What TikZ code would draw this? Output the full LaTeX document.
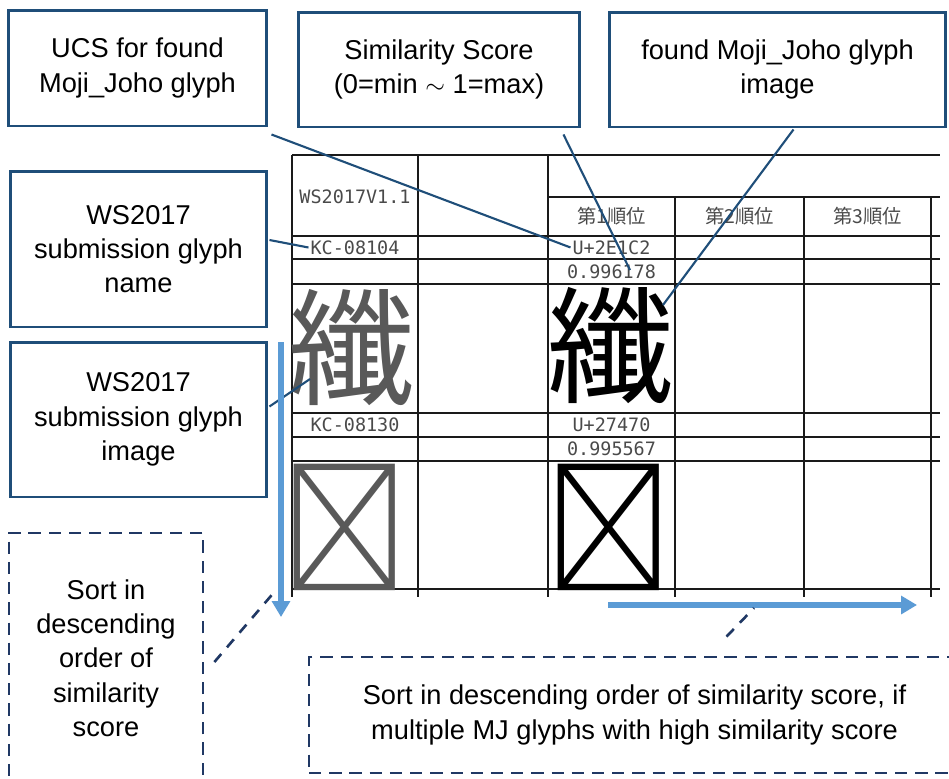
\documentclass[tikz,border=0pt]{standalone}
\usepackage{fontspec}
\setmainfont{Liberation Sans}
\setmonofont{DejaVu Sans Mono}
\newfontfamily\cjk{Noto Sans CJK JP}
\usetikzlibrary{arrows.meta}

\definecolor{boxE}{HTML}{1F4E79}
\definecolor{dashE}{HTML}{203864}
\definecolor{sortA}{HTML}{5B9BD5}
\definecolor{gridL}{HTML}{1A1A1A}
\definecolor{cellT}{HTML}{4A4A4A}

\begin{document}
\begin{tikzpicture}[x=0.02cm, y=-0.02cm,
  note/.style 2 args={draw=boxE, line width=1.7pt, minimum width=#1, minimum height=#2,
                      align=center, inner sep=2pt, font=\fontsize{15.5}{19.5}\selectfont},
  sortnote/.style 2 args={draw=dashE, line width=1.6pt, dash pattern=on 7pt off 4.5pt,
                      minimum width=#1, minimum height=#2, align=center, inner sep=2pt,
                      font=\fontsize{15.5}{19.5}\selectfont},
  cell/.style={font=\ttfamily\fontsize{10.5}{12}\selectfont, text=cellT, inner sep=1pt},
  rank/.style={font=\cjk\fontsize{11}{12}\selectfont, text=cellT, inner sep=1pt},
  glyph/.style={font=\cjk\fontsize{72}{72}\selectfont, inner sep=0pt,
                text height=57.6pt, text depth=5.8pt},
  tabline/.style={gridL, line width=0.8pt},
  link/.style={boxE, line width=1.2pt},
  hint/.style={dashE, line width=1.5pt, dash pattern=on 6pt off 5pt},
  sortarrow/.style={sortA, line width=3.4pt, -{Triangle[width=10pt,length=9pt]}},
]
\useasboundingbox (0,0) rectangle (949,778);
\clip (0,0) rectangle (949,778);

% result table grid
\draw[tabline] (292,155) -- (940,155);
\draw[tabline] (548,197) -- (940,197);
\foreach \ry in {236,259,413,437,461,589}
  \draw[tabline] (292,\ry) -- (940,\ry);
\draw[tabline, line width=1.3pt] (292,284) -- (940,284);
\foreach \cx in {292,418,548}
  \draw[tabline] (\cx,155) -- (\cx,597);
\foreach \cx in {675,804,931}
  \draw[tabline] (\cx,197) -- (\cx,597);

% table texts
\node[cell] (head) at (355,197) {WS2017V1.1};
\node[rank] (r1) at (611.5,216.5) {第1順位};
\node[rank] (r2) at (739.5,216.5) {第2順位};
\node[rank] (r3) at (867.5,216.5) {第3順位};

\node[cell] (ws1) at (355,247.5) {KC-08104};
\node[cell] (u1) at (611.5,247.5) {U+2E1C2};
\node[cell] (s1) at (611.5,271.5) {0.996178};
\node[glyph, text=black!65] (k1) at (352,350) {纖};
\node[glyph] (m1) at (611,348) {纖};

\node[cell] (ws2) at (355,425) {KC-08130};
\node[cell] (u2) at (611.5,425) {U+27470};
\node[cell] (s2) at (611.5,449) {0.995567};
\node[glyph, text=black!65] (k2) at (345,530) {𧑰};
\node[glyph] (m2) at (609,530) {𧑰};

% --- callout boxes ---
\node[note={5.18cm}{2.32cm}] (ucs) at (137.5,68) {UCS for found\\Moji\_Joho glyph};
\node[note={5.64cm}{2.30cm}] (score) at (439,69.5) {Similarity Score\\(0=min $\sim$ 1=max)};
\node[note={6.74cm}{2.30cm}] (mojiimg) at (777.5,69.5) {found Moji\_Joho glyph\\image};
\node[note={5.14cm}{3.12cm}] (wsname) at (138.5,249) {WS2017\\submission glyph\\name};
\node[note={5.14cm}{3.10cm}] (wsimg) at (138.5,419.5) {WS2017\\submission glyph\\image};

\coordinate (scoreTip) at (630,270);
\coordinate (imgTip) at (663,305);
\coordinate (kanjiTip) at (310,379);
\draw[link] ([shift={(3,7)}]ucs.south east) -- (u1.west);
\draw[link] ([shift={(-18,6)}]score.south east) -- (scoreTip);
\draw[link] ([shift={(16,1)}]mojiimg.south) -- (imgTip);
\draw[link] ([shift={(1,-9)}]wsname.east) -- (ws1.west);
\draw[link] ([shift={(1,-13)}]wsimg.east) -- (kanjiTip);

% --- sort direction ---
\coordinate (downS) at (281,342);
\coordinate (downE) at (281,617);
\coordinate (rightS) at (608,605);
\coordinate (rightE) at (917,605);
\draw[sortarrow] (downS) -- (downE);
\draw[sortarrow] (rightS) -- (rightE);

\node[sortnote={3.88cm}{5.0cm}] (sortcol) at (106,658)
  {Sort in\\descending\\order of\\similarity\\score};
\node[sortnote={13.02cm}{2.32cm}] (sortrow) at (634.5,715)
  {Sort in descending order of similarity score, if\\multiple MJ glyphs with high similarity score};

\coordinate (colTip) at (276,590);
\coordinate (rowTip) at (754,608);
\draw[hint] ([shift={(10,4)}]sortcol.east) -- (colTip);
\draw[hint] ([shift={(92,-19)}]sortrow.north) -- (rowTip);
\end{tikzpicture}
\end{document}
